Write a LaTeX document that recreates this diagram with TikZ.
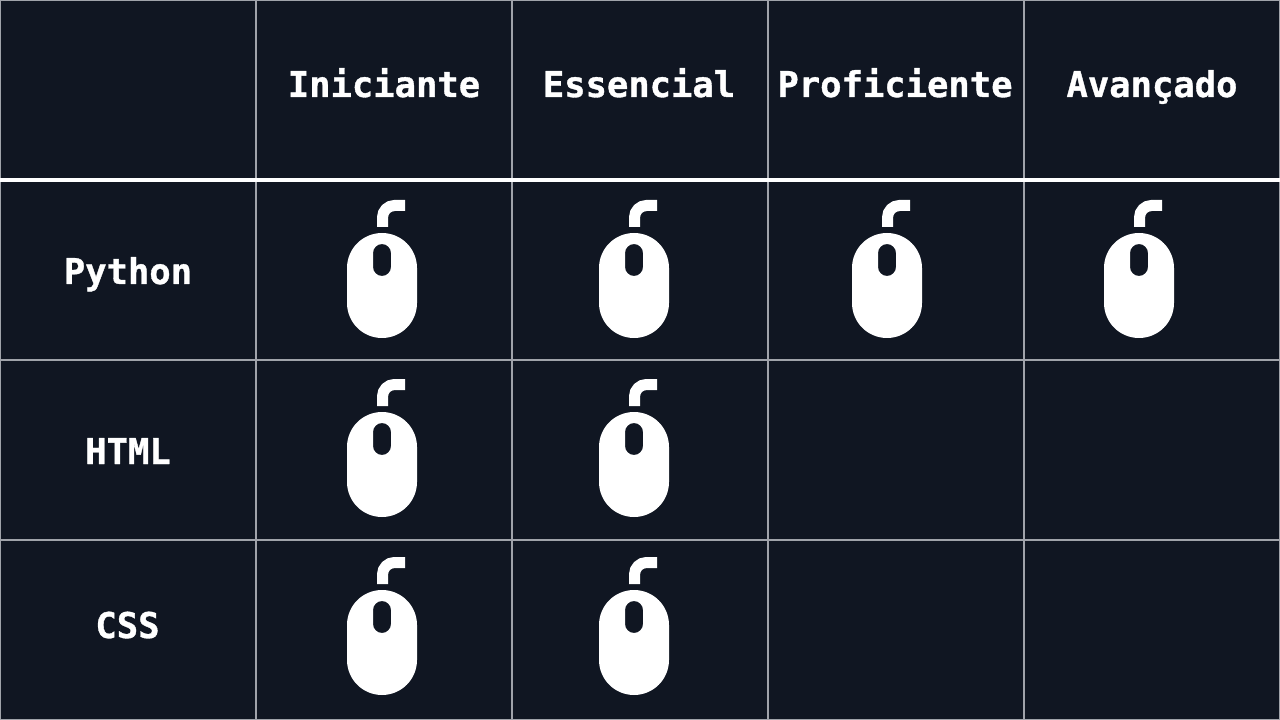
\documentclass[tikz,border=0pt]{standalone}
\usepackage{fontspec}
\setmonofont[BoldFeatures={FakeBold=1.0}]{DejaVu Sans Mono}
\definecolor{panel}{HTML}{101622}
\definecolor{gridline}{HTML}{A0A3AA}
\tikzset{
	x = 0.2mm, y = -0.2mm,
	cell/.style = {draw = gridline, line width = 0.3mm},
	title/.style = {anchor = base, text = white, inner sep = 0pt, font = \ttfamily\bfseries\fontsize{20.2pt}{24pt}\selectfont},
	mouse/.pic = {
		\draw[white, line width = 2.2mm, rounded corners = 2.4mm] (0.5, -6) -- (0.5, -27.5) -- (23, -27.5);
		\fill[white, even odd rule] (-35, 0) [rounded corners = 7mm] rectangle (35, 105)
			(-9, 11) [rounded corners = 1.8mm] rectangle (9, 43);
	}
}
\begin{document}
\begin{tikzpicture}
	\useasboundingbox (0, 0) rectangle (1280, 720);
	\fill[panel] (0, 0) rectangle (1280, 720);
	% grid
	\draw[cell] (0.5, 0.5) rectangle (1279.5, 719.5);
	\draw[cell] (256, 0) -- (256, 720);
	\draw[cell] (512, 0) -- (512, 720);
	\draw[cell] (768, 0) -- (768, 720);
	\draw[cell] (1024, 0) -- (1024, 720);
	\draw[cell] (0, 360) -- (1280, 360);
	\draw[cell] (0, 540) -- (1280, 540);
	\draw[white, line width = 0.8mm] (0, 180) -- (1280, 180);
	% header
	\node[title] (iniciante) at (384, 97) {Iniciante};
	\node[title] (essencial) at (639, 97) {Essencial};
	\node[title] (proficiente) at (895, 97) {Proficiente};
	\node[title] (avancado) at (1152, 97) {Avançado};
	% rows
	\node[title] (python) at (128, 284) {Python};
	\node[title] (html) at (128, 464) {HTML};
	\node[title] (css) at (127.5, 638) {CSS};
	% mice
	\pic at (382, 233) {mouse};
	\pic at (634, 233) {mouse};
	\pic at (887, 233) {mouse};
	\pic at (1139, 233) {mouse};
	\pic at (382, 412) {mouse};
	\pic at (634, 412) {mouse};
	\pic at (382, 590) {mouse};
	\pic at (634, 590) {mouse};
\end{tikzpicture}
\end{document}
